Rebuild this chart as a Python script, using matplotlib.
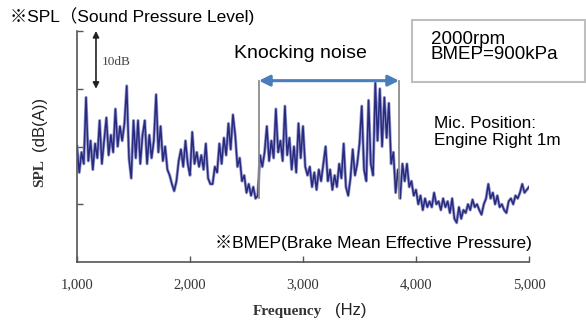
import numpy as np
import matplotlib
matplotlib.use('Agg')
import matplotlib.pyplot as plt

# SPL spectrum at 2000rpm / BMEP 900kPa (dB, relative)
freq = np.arange(1000, 5001, 20)
spl = [
    20, 15.5, 19, 17, 28.5, 17.5, 21, 16, 20.5, 18,
    24.5, 17, 21, 25, 18.5, 22, 19, 26.5, 20, 23.5,
    21, 24, 30.5, 18, 14.5, 24.5, 18, 24.5, 17, 22,
    24.5, 17, 22, 18, 21, 29, 19, 23.5, 17.5, 20,
    16, 15, 13.5, 12.3, 14, 17.5, 19.5, 16.5, 21, 17,
    15, 22.5, 17, 19, 16.5, 18.5, 16, 20.5, 14.5, 13.5,
    13.5, 16.5, 15.5, 20.5, 17, 21.5, 18.5, 24, 19.5, 25.5,
    22, 16.5, 18, 14, 15, 12, 13.5, 11.5, 13, 11,
    11.5, 18.5, 16.5, 19, 23.5, 17.5, 21, 18, 26.5, 19,
    21, 17.5, 27, 18.5, 21.5, 16, 20, 15.5, 24, 18,
    23.5, 16.5, 15, 16.5, 13, 15.5, 12.5, 16, 14, 17,
    20, 14, 16, 12.5, 15, 13, 17, 14.5, 20.5, 13,
    11.5, 14.5, 19.5, 15, 17, 20.5, 27, 16, 14, 28,
    17, 15, 31, 21, 30, 20, 28.5, 21.5, 27.5, 17,
    19, 12, 16, 11, 17, 14, 17, 13, 14, 11.5,
    12.5, 10, 11.5, 9, 11, 9.5, 10.5, 9.5, 12, 10,
    10.5, 9, 11, 9.5, 10.5, 8.5, 11, 7.5, 6.8, 9.5,
    7.5, 9, 8.5, 10, 9, 10.8, 9.5, 10, 9, 8.2,
    10, 11, 13.5, 11, 12, 10, 11.5, 9.5, 10, 9,
    8.5, 10.5, 11, 10, 11.5, 11, 12, 13.5, 12, 12.5,
    13,
]
xticks = [1000, 2000, 3000, 4000, 5000]
xticklabels = ['1,000', '2,000', '3,000', '4,000', '5,000']
knock_start, knock_end = 2610, 3850   # Hz, knocking noise band
knock_base, knock_top = 11, 31.4      # dB

W, H = 586, 320
sans = ['Liberation Sans', 'Noto Sans CJK JP']
serif = ['Liberation Serif']


def px(x, y):
    return x / W, 1 - y / H


fig = plt.figure(figsize=(W / 100, H / 100), dpi=100)
ax = fig.add_axes([77 / W, 58 / H, 452 / W, 231 / H])

# soft halo + dark core, like the scanned original
ax.plot(freq, spl, color='#7f82c0', lw=2.2, alpha=0.8)
ax.plot(freq, spl, color='#272a7e', lw=1.1)

ax.set_xlim(1000, 5000)
ax.set_ylim(0, 40)
ax.set_xticks(xticks)
ax.set_xticklabels(xticklabels, fontfamily=serif, fontsize=10.5, color='#333333')
ax.set_yticks([10, 20, 30, 40])
ax.set_yticklabels([])
ax.tick_params(direction='in', length=4, width=1, colors='#555555')
ax.tick_params(axis='x', pad=12, labelcolor='#333333')
for s in ['top', 'right']:
    ax.spines[s].set_visible(False)
for s in ['left', 'bottom']:
    ax.spines[s].set_color('#555555')
    ax.spines[s].set_linewidth(1.2)

# knocking band marker
for f in (knock_start, knock_end):
    ax.plot([f, f], [knock_base, knock_top], color='#8c8c8c', lw=1.3, clip_on=False)
ax.annotate('', xy=(knock_start, knock_top), xytext=(knock_end, knock_top),
            arrowprops=dict(arrowstyle='<|-|>', color='#4a7ebb', lw=2.2,
                            mutation_scale=16, shrinkA=0, shrinkB=0))

# 10 dB scale arrow
ax.annotate('', xy=(1168, 40), xytext=(1168, 30),
            arrowprops=dict(arrowstyle='<|-|>', color='#222222', lw=1.2,
                            mutation_scale=9, shrinkA=0, shrinkB=0))
fig.text(*px(102, 62), '10dB', fontfamily=serif, fontsize=9.5, color='#444444', va='center')

fig.text(*px(10, 16), '※SPL（Sound Pressure Level)', family=sans, fontsize=12.5, va='center')
fig.text(*px(300, 53), 'Knocking noise', family=sans, fontsize=14, ha='center', va='center')
fig.text(*px(431, 47), '2000rpm\nBMEP=900kPa', family=sans, fontsize=13.5,
         va='center', linespacing=0.85)
box = plt.Rectangle(px(412, 82), 173 / W, 62 / H, transform=fig.transFigure,
                    fill=False, edgecolor='#bfbfbf', lw=1.5)
fig.add_artist(box)
fig.text(*px(434, 132), 'Mic. Position:\nEngine Right 1m', family=sans, fontsize=12.3,
         va='center', linespacing=1.25)
fig.text(*px(215, 243), '※BMEP(Brake Mean Effective Pressure)', family=sans,
         fontsize=12.5, va='center')

fig.text(*px(322, 311), 'Frequency', fontfamily=serif, fontweight='bold', fontsize=11,
         color='#333333', ha='right', va='center')
fig.text(*px(335, 310), '(Hz)', family=sans, fontsize=12, color='#222222', va='center')
fig.text(*px(40, 187), 'SPL', fontfamily=serif, fontweight='bold', fontsize=11,
         color='#333333', rotation=90, ha='center', va='bottom')
fig.text(*px(40, 151), '(dB(A))', family=sans, fontsize=12, color='#222222',
         rotation=90, ha='center', va='bottom')

fig.savefig('out.png', dpi=100)
